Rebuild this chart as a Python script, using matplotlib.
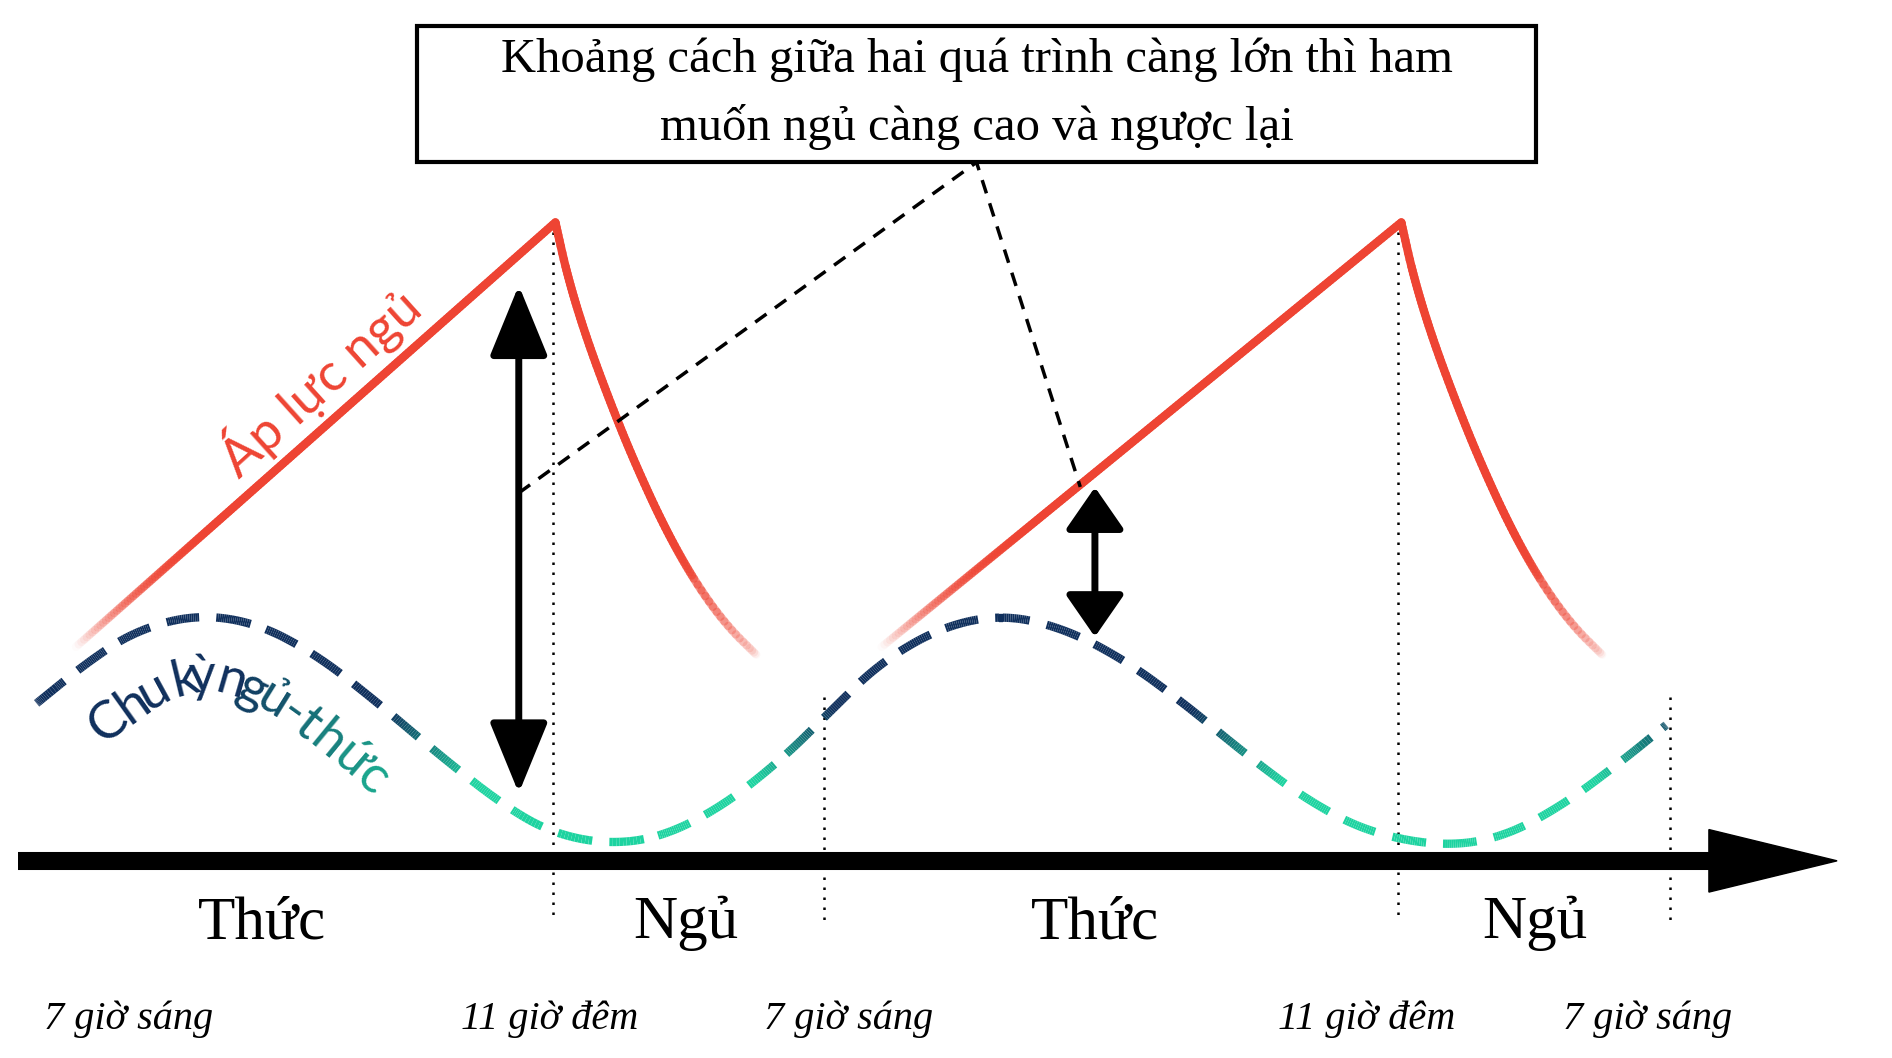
import matplotlib.pyplot as plt
import numpy as np
from matplotlib.collections import LineCollection
from matplotlib.colors import to_rgb
from matplotlib.patches import Polygon, Rectangle, FancyArrowPatch

SERIF = ["Liberation Serif", "DejaVu Serif"]
RED = "#ee4433"
NAVY = "#0f2f5c"
TEAL = "#1dd3a0"

# reference-pixel coordinates (as seen on the diagram)
wake_ramps = [((60, 540), (455, 185)), ((720, 540), (1148, 185))]
decay_curve = [(0, 0), (10, 45), (25, 95), (45, 150), (65, 200), (90, 255), (115, 300), (140, 335), (165, 360)]
cycle_pts = [(30, 585), (70, 552), (110, 525), (160, 511), (210, 518), (260, 545), (310, 585),
             (360, 628), (410, 668), (450, 692), (495, 702), (540, 697), (590, 672), (640, 632),
             (680, 592), (720, 552), (770, 522), (820, 511), (870, 522), (920, 548), (970, 585),
             (1020, 627), (1070, 665), (1120, 692), (1180, 704), (1230, 697), (1280, 670),
             (1330, 632), (1365, 603)]
state_labels = ["Thức", "Ngủ", "Thức", "Ngủ"]
state_x = [215, 562, 897, 1257]
time_labels = ["7 giờ sáng", "11 giờ đêm", "7 giờ sáng", "11 giờ đêm", "7 giờ sáng"]
time_x = [105, 450, 695, 1120, 1350]
dotted = [(453, 185, 765), (675, 580, 770), (1145, 185, 765), (1368, 580, 770)]


def smooth(pts, n=4):
    p = np.asarray(pts, float)
    for _ in range(n):
        q = 0.75 * p[:-1] + 0.25 * p[1:]
        r = 0.25 * p[:-1] + 0.75 * p[1:]
        p = np.vstack([p[:1], np.column_stack([q, r]).reshape(-1, 2), p[-1:]])
    return p


def densify(p, step=2.0):
    out = [p[0]]
    for a, b in zip(p[:-1], p[1:]):
        k = max(1, int(np.hypot(*(b - a)) / step))
        for t in np.linspace(0, 1, k + 1)[1:]:
            out.append(a + (b - a) * t)
    return np.array(out)


fig = plt.figure(figsize=(18.92, 10.58), dpi=100)
ax = fig.add_axes([0, 0, 1, 1])
ax.set_xlim(0, 1550)
ax.set_ylim(880, 0)
ax.axis("off")

# time axis
ax.plot([15, 1410], [716, 716], color="black", lw=13, solid_capstyle="butt", zorder=3)
ax.add_patch(Polygon([(1400, 690), (1505, 716), (1400, 742)], color="black", zorder=3))

# sleep pressure
red = np.array(to_rgb(RED))
for (x0, y0), (x1, y1) in wake_ramps:
    p = densify(np.array([[x0, y0], [x1, y1]], float), 3)
    segs = np.stack([p[:-1], p[1:]], axis=1)
    t = np.linspace(0, 1, len(segs))
    al = np.clip(t / 0.3, 0, 1)
    ax.add_collection(LineCollection(segs, colors=[(*red, a) for a in al], linewidths=6,
                                     capstyle="round", zorder=2))
    d = densify(smooth([(x1 + dx, y1 + dy) for dx, dy in decay_curve], 3), 3)
    segs = np.stack([d[:-1], d[1:]], axis=1)
    t = np.linspace(0, 1, len(segs))
    al = np.clip((1 - t) / 0.3, 0, 1)
    ax.add_collection(LineCollection(segs, colors=[(*red, a) for a in al], linewidths=6,
                                     capstyle="round", zorder=2))

# circadian cycle, hand-made dashes with colour by height
c = densify(smooth(cycle_pts), 1.5)
s = np.concatenate([[0], np.cumsum(np.hypot(*np.diff(c, axis=0).T))])
navy, teal = np.array(to_rgb(NAVY)), np.array(to_rgb(TEAL))
segs, cols = [], []
for i in range(len(c) - 1):
    if (s[i] % 42) < 28:
        segs.append([c[i], c[i + 1]])
        f = np.clip((c[i, 1] - 590) / 60, 0, 1)
        cols.append(navy * (1 - f) + teal * f)
ax.add_collection(LineCollection(segs, colors=cols, linewidths=6, capstyle="butt", zorder=2))

# curved label under the cycle
lab = "Chu kỳ ngủ-thức"
tang = np.gradient(c, axis=0)
tang /= np.hypot(*tang.T)[:, None]
norm = np.column_stack([-tang[:, 1], tang[:, 0]])
off = c + norm * 62
widths = {" ": 16, "-": 18, "C": 30, "h": 26, "u": 26, "k": 24, "ỳ": 24, "n": 26, "g": 26,
          "ủ": 26, "t": 17, "ứ": 26, "c": 23}
pos = s[0] + 20
for ch in lab:
    w = widths.get(ch, 24)
    pos += w / 2
    i = min(np.searchsorted(s, pos), len(c) - 1)
    ang = -np.degrees(np.arctan2(tang[i, 1], tang[i, 0]))
    f = np.clip((pos - 200) / 220, 0, 1)
    ax.text(off[i, 0], off[i, 1], ch, fontsize=38, family="Lato", rotation=ang,
            rotation_mode="anchor", ha="center", va="baseline", color=navy * (1 - f) + teal * f)
    pos += w / 2

ax.text(262, 318, "Áp lực ngủ", fontsize=38, family="Lato", color=RED, rotation=42,
        ha="center", va="center", rotation_mode="anchor")

# dotted guides
for x, ya, yb in dotted:
    ax.plot([x, x], [ya, yb], color="black", lw=1.8, ls=(0, (1, 3)), zorder=1)

# double arrows
for x, ya, yb, hl in [(425, 235, 662, 2.2), (897, 403, 532, 1.3)]:
    ax.add_patch(FancyArrowPatch((x, ya), (x, yb),
                                 arrowstyle=f"<|-|>,head_length={hl},head_width=0.9",
                                 mutation_scale=20, lw=5, color="black", zorder=4))

ax.plot([425, 800, 885], [410, 135, 405], color="black", lw=2.5, ls=(0, (4, 3)), zorder=4)

# note box
ax.add_patch(Rectangle((342, 22), 916, 113, fill=True, fc="white", ec="black", lw=3, zorder=5))
ax.text(800, 50, "Khoảng cách giữa hai quá trình càng lớn thì ham", fontsize=35, family=SERIF,
        ha="center", va="center", zorder=6)
ax.text(800, 106, "muốn ngủ càng cao và ngược lại", fontsize=35, family=SERIF,
        ha="center", va="center", zorder=6)

for x, t in zip(state_x, state_labels):
    ax.text(x, 768, t, fontsize=44, family=SERIF, ha="center", va="center")
for x, t in zip(time_x, time_labels):
    ax.text(x, 848, t, fontsize=29, family=SERIF, style="italic", ha="center", va="center")

fig.savefig("out.png", dpi=100)
